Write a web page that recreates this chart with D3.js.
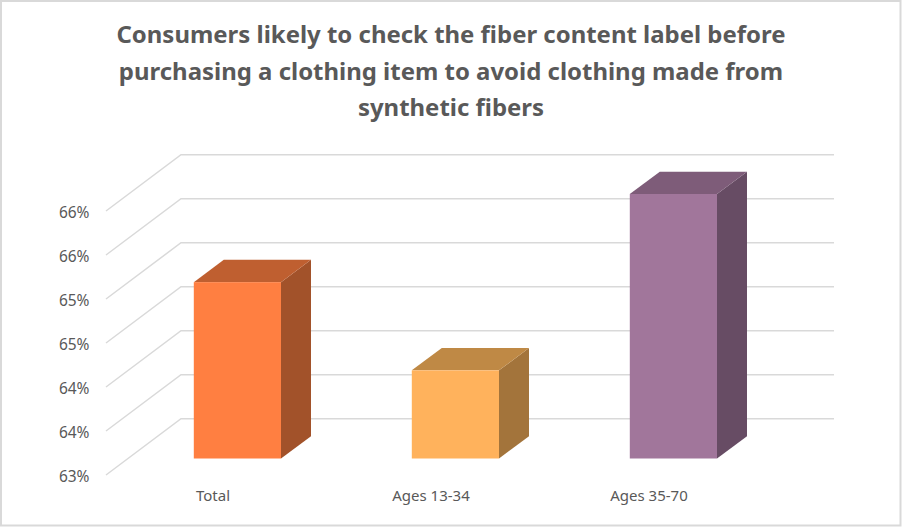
<!DOCTYPE html>
<html>
<head>
<meta charset="utf-8">
<script src="https://cdn.jsdelivr.net/npm/d3@7/dist/d3.min.js"></script>
<style>
html,body{margin:0;padding:0;background:#fff;}
svg{display:block;}
text{font-family:"Noto Sans",sans-serif;fill:#595959;}
.domain{display:none;}
</style>
</head>
<body>
<svg id="chart" width="902" height="527"></svg>
<script>
const titleLines = [
  "Consumers likely to check the fiber content label before",
  "purchasing a clothing item to avoid clothing made from",
  "synthetic fibers"
];
const categories = ["Total", "Ages 13-34", "Ages 35-70"];
const values = [65, 64, 66];
const frontColors = ["#FF7F41", "#FFB25C", "#A1769B"];
const topColors = ["#BF5F30", "#BF8945", "#7E5C79"];
const sideColors = ["#A2522A", "#A3743B", "#674C64"];
const tickValues = [63, 63.5, 64, 64.5, 65, 65.5, 66];
const tickLabels = ["63%", "64%", "64%", "65%", "65%", "66%", "66%"];

const svg = d3.select("#chart");
svg.append("rect").attr("x", 1).attr("y", 1).attr("width", 899.5).attr("height", 524.5)
  .attr("fill", "#fff").attr("stroke", "#d9d9d9").attr("stroke-width", 2);

svg.append("g").selectAll("text").data(titleLines).join("text")
  .attr("x", 451).attr("y", (d, i) => 43 + i * 36.5)
  .attr("text-anchor", "middle").attr("font-size", 23.95).attr("font-weight", 700)
  .text(d => d);

// Scales
const wallY = d3.scaleLinear().domain([63, 66]).range([475, 211]);
const barY = d3.scaleLinear().domain([63, 66]).range([458.5, 194]);
const x = d3.scaleBand().domain(categories).range([128.4, 782.4]).paddingInner(0.6).paddingOuter(0.3);
const wallDepth = { dx: 75, dy: -56.3 };
const barDepth = { dx: 30, dy: -22.3 };
const gridX0 = 106, gridX1 = 834;

// Gridlines: floor/side diagonal, then back wall
const grid = svg.append("g").attr("fill", "none").attr("stroke", "#d9d9d9").attr("stroke-width", 1.5);
grid.selectAll("path").data(tickValues).join("path")
  .attr("d", d => {
    const p = d3.path();
    p.moveTo(gridX0, wallY(d));
    p.lineTo(gridX0 + wallDepth.dx, wallY(d) + wallDepth.dy);
    p.lineTo(gridX1, wallY(d) + wallDepth.dy);
    return p.toString();
  });

// Y axis
const yAxis = d3.axisLeft(wallY).tickValues(tickValues).tickSize(0).tickPadding(0)
  .tickFormat((d, i) => tickLabels[i]);
svg.append("g").attr("transform", "translate(89.5,1.7)").call(yAxis)
  .call(g => g.selectAll("text").attr("font-size", 15.5).attr("font-weight", 400).attr("font-family", 'Inter,sans-serif').attr("fill", "#595959"));

// 3D bars
const bars = svg.append("g").selectAll("g").data(categories).join("g");
const poly = pts => pts.map(p => p.join(",")).join(" ");
bars.append("polygon").attr("fill", (d, i) => sideColors[i])
  .attr("points", (d, i) => {
    const r = x(d) + x.bandwidth(), t = barY(values[i]), b = barY(63);
    return poly([[r, t], [r + barDepth.dx, t + barDepth.dy], [r + barDepth.dx, b + barDepth.dy], [r, b]]);
  });
bars.append("polygon").attr("fill", (d, i) => topColors[i])
  .attr("points", (d, i) => {
    const l = x(d), r = l + x.bandwidth(), t = barY(values[i]);
    return poly([[l, t], [l + barDepth.dx, t + barDepth.dy], [r + barDepth.dx, t + barDepth.dy], [r, t]]);
  });
bars.append("rect").attr("fill", (d, i) => frontColors[i])
  .attr("x", d => x(d)).attr("width", x.bandwidth())
  .attr("y", (d, i) => barY(values[i])).attr("height", (d, i) => barY(63) - barY(values[i]));

// Category labels
const catAxis = d3.axisBottom(x).tickSize(0).tickPadding(0);
svg.append("g").attr("transform", "translate(-24.4,490.5)").call(catAxis)
  .call(g => g.selectAll("text").attr("font-size", 15).attr("font-family", '"Noto Sans",sans-serif').attr("fill", "#595959"));
</script>
</body>
</html>
